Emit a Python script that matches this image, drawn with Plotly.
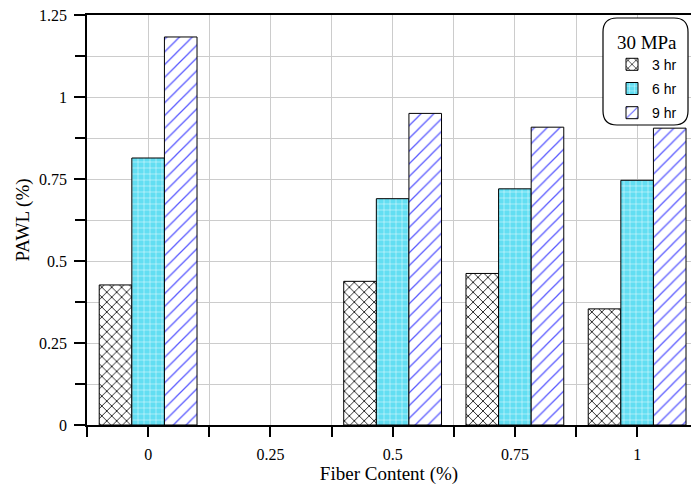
import plotly.graph_objects as go

categories = ["0", "0.25", "0.5", "0.75", "1"]
series_names = ["3 hr", "6 hr", "9 hr"]
pawl_3hr = [0.427, None, 0.438, 0.462, 0.354]
pawl_6hr = [0.814, None, 0.690, 0.720, 0.746]
pawl_9hr = [1.183, None, 0.950, 0.908, 0.905]
y_ticks = [0, 0.25, 0.5, 0.75, 1, 1.25]

W, H = 691, 491
L, T, B, R = 87, 15, 66, 0
xpos = list(range(len(categories)))

patterns = [
    dict(shape="x", fgcolor="black", bgcolor="white", size=7, solidity=0.22, fillmode="replace"),
    dict(shape="+", fgcolor="white", bgcolor="#62def2", size=6, solidity=0.14, fillmode="replace"),
    dict(shape="/", fgcolor="#5a5aff", bgcolor="white", size=9, solidity=0.14, fillmode="replace"),
]

fig = go.Figure()
for name, vals, pat in zip(series_names, [pawl_3hr, pawl_6hr, pawl_9hr], patterns):
    fig.add_trace(go.Bar(
        x=xpos, y=vals, name=name, legendgroup=name,
        marker=dict(color=pat["bgcolor"], pattern=pat, line=dict(color="black", width=1)),
    ))

serif = "Liberation Serif, Times New Roman, serif"
sans = "Liberation Sans, Arial, sans-serif"

plot_w = W - L - R
plot_h = H - T - B
spacing = 122.25
x_end = -0.5 + plot_w / spacing

fig.update_layout(
    width=W, height=H,
    margin=dict(l=L, r=R, t=T, b=B, pad=0),
    paper_bgcolor="white", plot_bgcolor="white",
    barmode="group", bargap=0.2, bargroupgap=0,
    font=dict(family=serif, size=16, color="black"),
    xaxis=dict(
        range=[-0.5, x_end],
        tickmode="array", tickvals=xpos, ticktext=categories,
        ticks="outside", ticklen=10, tickwidth=1.5, tickcolor="black",
        showline=True, linecolor="black", linewidth=1.5, mirror=True,
        showgrid=True, gridcolor="#cccccc", gridwidth=1,
        minor=dict(tickvals=[p - 0.5 for p in xpos] + [xpos[-1] + 0.5], ticks="outside",
                   ticklen=10, tickwidth=1.5, tickcolor="black",
                   showgrid=True, gridcolor="#cccccc", gridwidth=1),
        ticklabelstandoff=4,
        tickfont=dict(family=serif, size=16),
        title=dict(text="Fiber Content (%)", font=dict(family=serif, size=19), standoff=4),
        zeroline=False,
    ),
    yaxis=dict(
        range=[0, 1.25],
        tickmode="array", tickvals=y_ticks, ticktext=[f"{v:g}" for v in y_ticks],
        ticks="outside", ticklen=11, tickwidth=1.5, tickcolor="black",
        showline=True, linecolor="black", linewidth=1.5,
        showgrid=True, gridcolor="#cccccc", gridwidth=1,
        minor=dict(dtick=0.125, ticks="outside", ticklen=10, tickwidth=1.5, tickcolor="black",
                   showgrid=True, gridcolor="#cccccc", gridwidth=1),
        ticklabelstandoff=4,
        tickfont=dict(family=serif, size=16),
        title=dict(text="PAWL (%)", font=dict(family=serif, size=19), standoff=4),
        zeroline=False,
    ),
    legend=dict(
        x=(612 - L) / plot_w, y=(425 - 24) / plot_h,
        xanchor="left", yanchor="top",
        bgcolor="rgba(0,0,0,0)", borderwidth=0,
        title=dict(text="30 MPa", font=dict(family=serif, size=19), side="top center"),
        font=dict(family=sans, size=14),
        traceorder="grouped", tracegroupgap=3,
    ),
)

# rounded legend frame (pixel -> paper)
def px(x):
    return (x - L) / plot_w
def py(y):
    return (425 - y) / plot_h

x0, x1, y0, y1, r = 603, 688, 18, 125, 14
path = (
    f"M {px(x0 + r)},{py(y0)} L {px(x1 - r)},{py(y0)} Q {px(x1)},{py(y0)} {px(x1)},{py(y0 + r)} "
    f"L {px(x1)},{py(y1 - r)} Q {px(x1)},{py(y1)} {px(x1 - r)},{py(y1)} "
    f"L {px(x0 + r)},{py(y1)} Q {px(x0)},{py(y1)} {px(x0)},{py(y1 - r)} "
    f"L {px(x0)},{py(y0 + r)} Q {px(x0)},{py(y0)} {px(x0 + r)},{py(y0)} Z"
)
fig.add_shape(type="path", path=path, xref="paper", yref="paper",
              line=dict(color="black", width=1.2), fillcolor="white", layer="above")

fig.write_html("out.html")
